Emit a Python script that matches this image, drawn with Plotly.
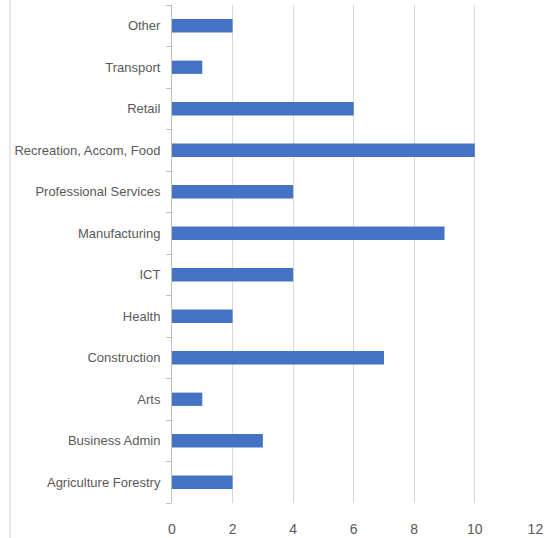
import plotly.graph_objects as go

categories = ["Agriculture Forestry", "Business Admin", "Arts", "Construction", "Health", "ICT",
              "Manufacturing", "Professional Services", "Recreation, Accom, Food", "Retail",
              "Transport", "Other"]
values = [2, 3, 1, 7, 2, 4, 9, 4, 10, 6, 1, 2]
x_ticks = [0, 2, 4, 6, 8, 10, 12]

font_family = "Liberation Sans, Arial, sans-serif"

fig = go.Figure(go.Bar(
    x=values, y=categories, orientation="h",
    marker=dict(color="#4472C4", line=dict(width=0)),
    width=0.32,
))

fig.update_layout(
    width=545, height=538,
    margin=dict(l=172, r=9, t=5, b=35),
    paper_bgcolor="white", plot_bgcolor="white",
    showlegend=False,
    font=dict(family=font_family, size=13, color="#595959"),
    xaxis=dict(range=[0, 12.02], tickvals=x_ticks, showgrid=True, gridcolor="#D9D9D9",
               gridwidth=1, zeroline=False, showline=False, ticks="",
               ticklabelstandoff=16, fixedrange=True, automargin=False,
               ticklabeloverflow="allow", tickfont=dict(size=14)),
    yaxis=dict(categoryorder="array", categoryarray=categories, showgrid=False,
               showline=True, linecolor="#BFBFBF", linewidth=1,
               ticks="outside", tickson="boundaries", ticklen=5, tickcolor="#BFBFBF",
               ticklabelstandoff=8, range=[-0.5, 11.5], automargin=False, fixedrange=True),
    shapes=[dict(type="line", xref="paper", yref="paper", x0=-162/364, x1=-162/364,
                 y0=-35/498, y1=1 + 5/498, line=dict(color="#D0D0D0", width=1))],
)

fig.write_html("out.html", config={"displayModeBar": False},
               post_script="document.body.style.margin='0';")
